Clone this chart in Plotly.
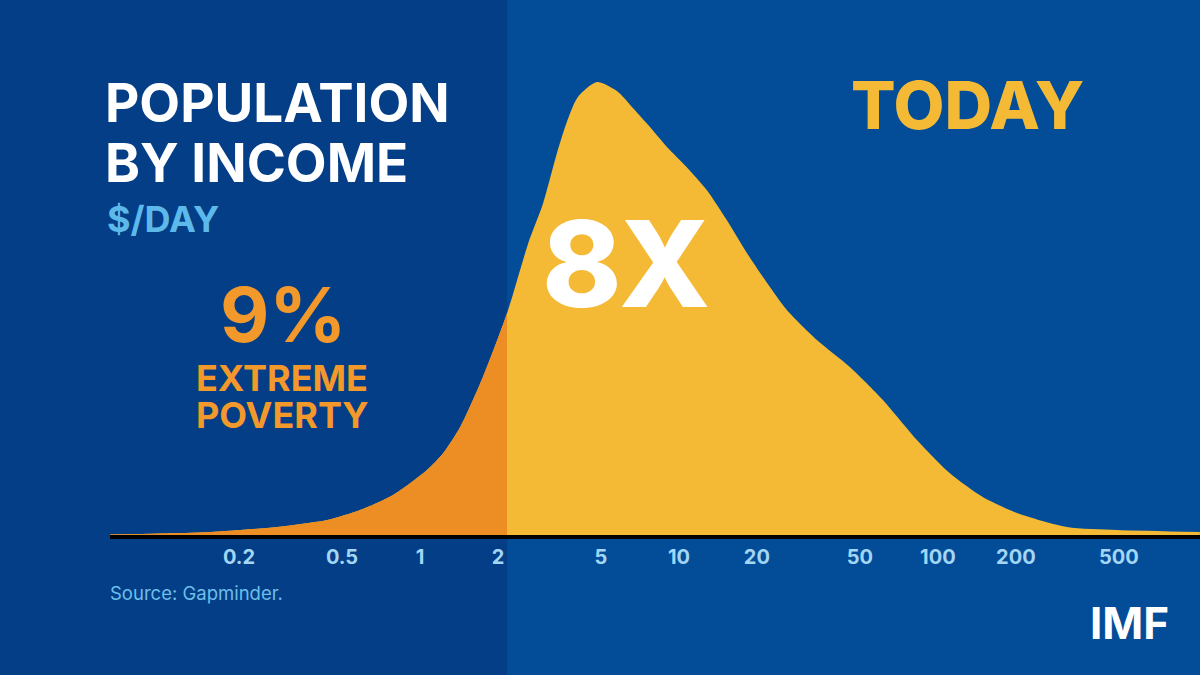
import plotly.graph_objects as go
import math

# ---- data ----
income = [0.0636, 0.0990, 0.155, 0.280, 0.438, 0.587, 0.787, 1.064, 1.23, 1.43,
          1.75, 2.17, 2.62, 2.99, 3.38, 3.69, 4.07, 4.82, 5.76,
          6.64, 7.73, 8.99, 10.7, 12.8, 15.3, 18.3, 21.9, 26.1, 34.1, 45.7,
          61.3, 83.0, 111, 149, 202, 315, 491, 1027]
population = [0.5, 1.5, 3, 8, 15, 25, 40, 65, 82, 108,
              158, 222, 292, 332, 382, 413, 438, 453, 444,
              427, 408, 388, 368, 345, 315, 282, 252, 225, 195, 168,
              135, 95, 62, 38, 22, 8, 5, 3]
poverty_line = 2.17
tick_vals = [0.2, 0.5, 1, 2, 5, 10, 20, 50, 100, 200, 500]
tick_text = ["0.2", "0.5", "1", "2", "5", "10", "20", "50", "100", "200", "500"]

# ---- style ----
W, H = 1200, 675
ML, MR, MT, MB = 110, 0, 75, 140
X_RANGE = [-1.197, 3.012]
Y_RANGE = [0, 460]
DARK = "#033E86"
BLUE = "#024C98"
YELLOW = "#F4B935"
ORANGE = "#EC8E23"
LIGHT = "#A3D6F4"
FONT = "Inter"
LINE = dict(width=0, shape="spline", smoothing=0.7)

split = (math.log10(poverty_line) - X_RANGE[0]) / (X_RANGE[1] - X_RANGE[0])

fig = go.Figure()
# whole distribution (yellow)
fig.add_trace(go.Scatter(x=income, y=population, mode="lines", fill="tozeroy",
                         fillcolor=YELLOW, line=LINE, hoverinfo="skip", showlegend=False))
# same curve on an axis that stops at the poverty line (orange part)
fig.add_trace(go.Scatter(x=income, y=population, mode="lines", fill="tozeroy",
                         fillcolor=ORANGE, line=LINE, hoverinfo="skip", showlegend=False,
                         xaxis="x2", yaxis="y2"))

pw = W - ML - MR
ph = H - MT - MB


def px(xp):
    return (xp - ML) / pw


def py(yp):
    return (H - MB - yp) / ph


fig.add_shape(type="rect", xref="paper", yref="paper", x0=-0.5, x1=split,
              y0=-1, y1=2, fillcolor=DARK, line=dict(width=0), layer="below")

ann = []


def text(s, xp, yp, size, color, xanchor="left", weight=700, family=FONT):
    ann.append(dict(text=s, x=px(xp), y=py(yp), xref="paper", yref="paper",
                    xanchor=xanchor, yanchor="middle", showarrow=False,
                    font=dict(family=family, size=size, color=color, weight=weight)))


text("POPULATION", 103, 103, 53, "white")
text("BY INCOME", 103, 163, 53, "white")
text("$/DAY", 105, 219, 36, "#5DB9EA")
text("9%", 283, 314, 76, "#F3982A", xanchor="center")
text("EXTREME", 282, 378, 36, "#F3982A", xanchor="center")
text("POVERTY", 282, 415, 36, "#F3982A", xanchor="center")
text("8X", 626, 263, 120, "white", xanchor="center", weight=800)
text("TODAY", 967, 105, 66, YELLOW, xanchor="center", weight=800)
text("Source: Gapminder.", 108, 593, 18.5, "#6DBFEA", weight=400)
text("IMF", 1129, 623, 44, "white", xanchor="center")

fig.update_layout(
    width=W, height=H,
    margin=dict(l=ML, r=MR, t=MT, b=MB),
    paper_bgcolor=BLUE, plot_bgcolor="rgba(0,0,0,0)",
    annotations=ann,
    xaxis=dict(type="log", range=X_RANGE, tickvals=tick_vals, ticktext=tick_text,
               showgrid=False, zeroline=False, showline=True, linecolor="black",
               linewidth=4, ticks="", ticklabelstandoff=1,
               tickfont=dict(family=FONT, size=20, color=LIGHT, weight=700),
               fixedrange=True, domain=[0, 1]),
    yaxis=dict(range=Y_RANGE, visible=False, fixedrange=True),
    xaxis2=dict(type="log", range=[X_RANGE[0], math.log10(poverty_line)],
                domain=[0, split], anchor="y2", visible=False, fixedrange=True),
    yaxis2=dict(range=Y_RANGE, domain=[0, 1], anchor="x2", visible=False, fixedrange=True),
)

fig.write_html("out.html", config={"displayModeBar": False})
